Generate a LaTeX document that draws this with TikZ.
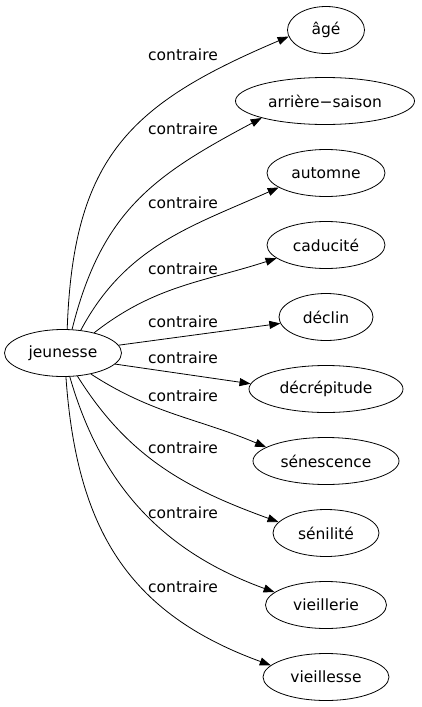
\documentclass[tikz,border=0pt]{standalone}
\usepackage{fontspec}
\setmainfont{DejaVu Sans}
\usetikzlibrary{arrows.meta, shapes.geometric}

\begin{document}
\begin{tikzpicture}[x=1pt, y=1pt, font=\fontsize{15.5}{18}\selectfont,
  word/.style={draw, ellipse, line width=0.8pt, minimum height=47pt, inner sep=0pt},
  rel/.style={-{Triangle[length=11pt,width=8pt]}, line width=0.8pt},
  lbl/.style={inner sep=0pt}]
\useasboundingbox (0,0) rectangle (421,-707);

% Root word
\node[word, minimum width=117pt] (jeunesse) at (63,-353) {jeunesse};

% Contraires
\node[word, minimum width=77pt]  (age)      at (326,-30)  {âgé};
\node[word, minimum width=179pt] (arriere)  at (325,-101) {arrière−saison};
\node[word, minimum width=118pt] (automne)  at (326,-173) {automne};
\node[word, minimum width=118pt] (caducite) at (326,-245) {caducité};
\node[word, minimum width=94pt]  (declin)   at (326,-317) {déclin};
\node[word, minimum width=154pt] (decrep)   at (326,-389) {décrépitude};
\node[word, minimum width=146pt] (senesc)   at (326,-461) {sénescence};
\node[word, minimum width=106pt] (senil)    at (326,-533) {sénilité};
\node[word, minimum width=121pt] (vieillerie) at (326,-605) {vieillerie};
\node[word, minimum width=126pt] (vieillesse) at (326,-677) {vieillesse};

% Edge labels
\node[lbl] (l1)  at (183,-55)  {contraire};
\node[lbl] (l2)  at (183,-129) {contraire};
\node[lbl] (l3)  at (183,-203) {contraire};
\node[lbl] (l4)  at (183,-269) {contraire};
\node[lbl] (l5)  at (183,-322) {contraire};
\node[lbl] (l6)  at (183,-358) {contraire};
\node[lbl] (l7)  at (183,-396) {contraire};
\node[lbl] (l8)  at (183,-448) {contraire};
\node[lbl] (l9)  at (183,-513) {contraire};
\node[lbl] (l10) at (183,-587) {contraire};

% Edges
\draw[rel] (jeunesse.80) to[out=88, in=203, looseness=1.2] (age.190);
\draw[rel] (jeunesse.69) to[out=76, in=208, looseness=1.1] (arriere.195);
\draw[rel] (jeunesse.52) to[out=62, in=204] (automne.197);
\draw[rel] (jeunesse.33) to[out=38, in=198] (caducite.195);
\draw[rel] (jeunesse.8) -- (declin.188);
\draw[rel] (jeunesse.-12) -- (decrep.176);
\draw[rel] (jeunesse.-37) to[out=-33, in=157] (senesc.167);
\draw[rel] (jeunesse.-58) to[out=-58, in=160] (senil.167);
\draw[rel] (jeunesse.-74) to[out=-74, in=160] (vieillerie.166);
\draw[rel] (jeunesse.-83) to[out=-86, in=160, looseness=1.1] (vieillesse.168);
\end{tikzpicture}
\end{document}
